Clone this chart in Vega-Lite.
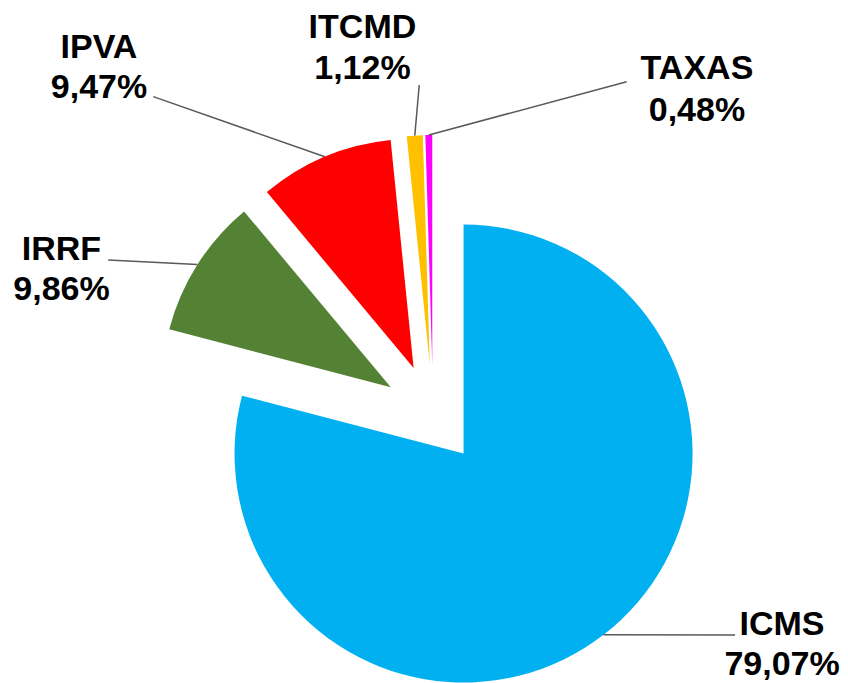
{
  "$schema": "https://vega.github.io/schema/vega-lite/v6.json",
  "width": 848,
  "height": 683,
  "autosize": "none",
  "padding": 0,
  "background": "white",
  "view": {"stroke": null},
  "config": {"font": "Liberation Sans"},
  "data": {
    "values": [
      {"category": "ICMS", "value": 79.07},
      {"category": "IRRF", "value": 9.86},
      {"category": "IPVA", "value": 9.47},
      {"category": "ITCMD", "value": 1.12},
      {"category": "TAXAS", "value": 0.48}
    ]
  },
  "transform": [
    {"stack": "value", "groupby": [], "sort": [{"field": "value", "order": "descending"}], "as": ["start", "end"]},
    {"calculate": "PI*(datum.start+datum.end)/100", "as": "ang"},
    {"calculate": "433+50*sin(datum.ang)", "as": "cx"},
    {"calculate": "414-50*cos(datum.ang)", "as": "cy"},
    {"calculate": "433+279*sin(datum.ang)", "as": "sx"},
    {"calculate": "414-279*cos(datum.ang)", "as": "sy"},
    {"calculate": "datum.category + '\\n' + replace(format(datum.value, '.2f'), '.', ',') + '%'", "as": "label"}
  ],
  "layer": [
    {
      "mark": {"type": "arc", "radius": 229, "stroke": null},
      "encoding": {
        "theta": {"field": "start", "type": "quantitative", "scale": {"domain": [0, 100]}},
        "theta2": {"field": "end"},
        "x": {"field": "cx", "type": "quantitative", "scale": null},
        "y": {"field": "cy", "type": "quantitative", "scale": null},
        "color": {
          "field": "category",
          "type": "nominal",
          "scale": {"domain": ["ICMS", "IRRF", "IPVA", "ITCMD", "TAXAS"], "range": ["#00B0F0", "#548235", "#FF0000", "#FFC000", "#FF00FF"]},
          "legend": null
        }
      }
    },
    {
      "transform": [
        {"filter": "datum.category == 'ICMS'"},
        {"calculate": "433+413.1*sin(datum.ang-0.3489)", "as": "lx"},
        {"calculate": "414-413.1*cos(datum.ang-0.3489)", "as": "ly"},
        {"calculate": "datum.lx-47", "as": "ex"},
        {"calculate": "datum.ly", "as": "ey"}
      ],
      "layer": [
        {"mark": {"type": "rule", "stroke": "#595959", "strokeWidth": 1.5},
         "encoding": {"x": {"field": "sx", "type": "quantitative", "scale": null}, "y": {"field": "sy", "type": "quantitative", "scale": null}, "x2": {"field": "ex"}, "y2": {"field": "ey"}}},
        {"mark": {"type": "text", "fontSize": 34, "fontWeight": "bold", "align": "center", "baseline": "alphabetic", "lineBreak": "\n", "lineHeight": 40, "color": "black"},
         "encoding": {"x": {"field": "lx", "type": "quantitative", "scale": null}, "y": {"field": "ly", "type": "quantitative", "scale": null}, "text": {"field": "label"}}}
      ]
    },
    {
      "transform": [
        {"filter": "datum.category == 'IRRF'"},
        {"calculate": "433+402.2*sin(datum.ang-0.1724)", "as": "lx"},
        {"calculate": "414-402.2*cos(datum.ang-0.1724)", "as": "ly"},
        {"calculate": "datum.lx+46.8", "as": "ex"},
        {"calculate": "datum.ly", "as": "ey"}
      ],
      "layer": [
        {"mark": {"type": "rule", "stroke": "#595959", "strokeWidth": 1.5},
         "encoding": {"x": {"field": "sx", "type": "quantitative", "scale": null}, "y": {"field": "sy", "type": "quantitative", "scale": null}, "x2": {"field": "ex"}, "y2": {"field": "ey"}}},
        {"mark": {"type": "text", "fontSize": 34, "fontWeight": "bold", "align": "center", "baseline": "alphabetic", "lineBreak": "\n", "lineHeight": 40, "color": "black"},
         "encoding": {"x": {"field": "lx", "type": "quantitative", "scale": null}, "y": {"field": "ly", "type": "quantitative", "scale": null}, "text": {"field": "label"}}}
      ]
    },
    {
      "transform": [
        {"filter": "datum.category == 'IPVA'"},
        {"calculate": "433+488.2*sin(datum.ang-0.3554)", "as": "lx"},
        {"calculate": "414-488.2*cos(datum.ang-0.3554)", "as": "ly"},
        {"calculate": "datum.lx+54.3", "as": "ex"},
        {"calculate": "datum.ly+38.7", "as": "ey"}
      ],
      "layer": [
        {"mark": {"type": "rule", "stroke": "#595959", "strokeWidth": 1.5},
         "encoding": {"x": {"field": "sx", "type": "quantitative", "scale": null}, "y": {"field": "sy", "type": "quantitative", "scale": null}, "x2": {"field": "ex"}, "y2": {"field": "ey"}}},
        {"mark": {"type": "text", "fontSize": 34, "fontWeight": "bold", "align": "center", "baseline": "alphabetic", "lineBreak": "\n", "lineHeight": 40, "color": "black"},
         "encoding": {"x": {"field": "lx", "type": "quantitative", "scale": null}, "y": {"field": "ly", "type": "quantitative", "scale": null}, "text": {"field": "label"}}}
      ]
    },
    {
      "transform": [
        {"filter": "datum.category == 'ITCMD'"},
        {"calculate": "433+382.3*sin(datum.ang-0.1203)", "as": "lx"},
        {"calculate": "414-382.3*cos(datum.ang-0.1203)", "as": "ly"},
        {"calculate": "datum.lx+56.8", "as": "ex"},
        {"calculate": "datum.ly+46.7", "as": "ey"}
      ],
      "layer": [
        {"mark": {"type": "rule", "stroke": "#595959", "strokeWidth": 1.5},
         "encoding": {"x": {"field": "sx", "type": "quantitative", "scale": null}, "y": {"field": "sy", "type": "quantitative", "scale": null}, "x2": {"field": "ex"}, "y2": {"field": "ey"}}},
        {"mark": {"type": "text", "fontSize": 34, "fontWeight": "bold", "align": "center", "baseline": "alphabetic", "lineBreak": "\n", "lineHeight": 41, "color": "black"},
         "encoding": {"x": {"field": "lx", "type": "quantitative", "scale": null}, "y": {"field": "ly", "type": "quantitative", "scale": null}, "text": {"field": "label"}}}
      ]
    },
    {
      "transform": [
        {"filter": "datum.category == 'TAXAS'"},
        {"calculate": "433+426.3*sin(datum.ang+0.6828)", "as": "lx"},
        {"calculate": "414-426.3*cos(datum.ang+0.6828)", "as": "ly"},
        {"calculate": "datum.lx-70.3", "as": "ex"},
        {"calculate": "datum.ly+2.4", "as": "ey"}
      ],
      "layer": [
        {"mark": {"type": "rule", "stroke": "#595959", "strokeWidth": 1.5},
         "encoding": {"x": {"field": "sx", "type": "quantitative", "scale": null}, "y": {"field": "sy", "type": "quantitative", "scale": null}, "x2": {"field": "ex"}, "y2": {"field": "ey"}}},
        {"mark": {"type": "text", "fontSize": 34, "fontWeight": "bold", "align": "center", "baseline": "alphabetic", "lineBreak": "\n", "lineHeight": 42, "color": "black"},
         "encoding": {"x": {"field": "lx", "type": "quantitative", "scale": null}, "y": {"field": "ly", "type": "quantitative", "scale": null}, "text": {"field": "label"}}}
      ]
    }
  ]
}
